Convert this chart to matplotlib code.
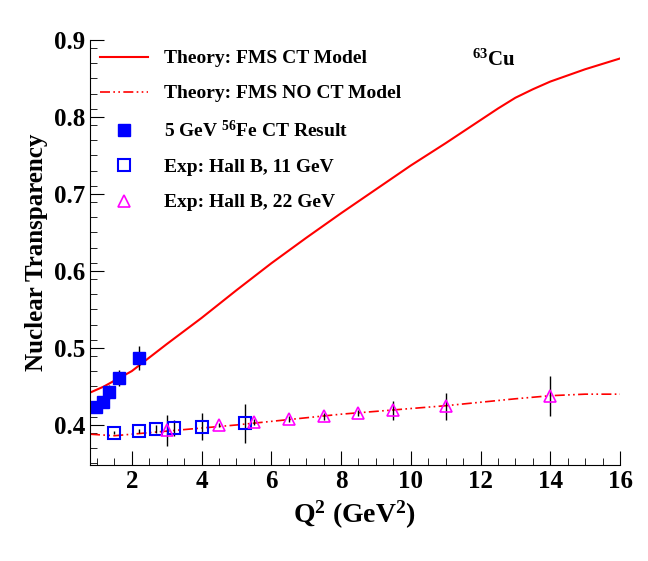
import numpy as np
import matplotlib
matplotlib.use("Agg")
import matplotlib.pyplot as plt

plt.rcParams["font.family"] = "Liberation Serif"
plt.rcParams["font.weight"] = "bold"
plt.rcParams["mathtext.fontset"] = "custom"
plt.rcParams["mathtext.rm"] = "Liberation Serif:bold"
plt.rcParams["mathtext.it"] = "Liberation Serif:bold"
plt.rcParams["mathtext.bf"] = "Liberation Serif:bold"

# theory curves
ct_q2 = [0.8, 1.2, 1.6, 2, 3, 4, 5, 6, 7, 8, 9, 10, 11, 12, 12.5, 13, 13.5, 14, 14.5, 15, 15.5, 16]
ct_t = [0.442, 0.450, 0.460, 0.470, 0.505, 0.539, 0.575, 0.610, 0.643, 0.675, 0.706,
        0.737, 0.766, 0.796, 0.811, 0.825, 0.836, 0.846, 0.854, 0.862, 0.869, 0.876]
noct_q2 = [0.8, 1.5, 3, 5, 8, 11, 13, 14, 15, 16]
noct_t = [0.388, 0.386, 0.392, 0.400, 0.414, 0.425, 0.434, 0.438, 0.440, 0.440]

# 5 GeV Fe
fe_q2 = [0.96, 1.16, 1.35, 1.63, 2.2]
fe_t = [0.423, 0.430, 0.443, 0.461, 0.487]
fe_err = [0.008, 0.008, 0.009, 0.010, 0.016]

# Hall B 11 GeV
hb11_q2 = [1.5, 2.2, 2.7, 3.2, 4.0, 5.25]
hb11_t = [0.390, 0.392, 0.395, 0.396, 0.398, 0.402]
hb11_err = [0.002, 0.003, 0.005, 0.010, 0.018, 0.025]

# Hall B 22 GeV
hb22_q2 = [3.0, 4.5, 5.5, 6.5, 7.5, 8.5, 9.5, 11, 14]
hb22_t = [0.393, 0.400, 0.404, 0.408, 0.411, 0.416, 0.419, 0.424, 0.437]
hb22_err = [0.020, 0.003, 0.004, 0.004, 0.004, 0.004, 0.012, 0.018, 0.026]

fig = plt.figure(figsize=(6.48, 5.61), dpi=100)
ax = fig.add_axes([90 / 648, 96 / 561, 530 / 648, 425 / 561])

ax.plot(ct_q2, ct_t, color="red", lw=1.5, label="Theory: FMS CT Model")
ax.plot(noct_q2, noct_t, color="red", lw=1.2, ls=(0, (6, 2, 1, 2, 1, 2)),
        label="Theory: FMS NO CT Model")
ax.errorbar(fe_q2, fe_t, yerr=fe_err, fmt="none", ecolor="black", elinewidth=1)
ax.errorbar(hb11_q2, hb11_t, yerr=hb11_err, fmt="none", ecolor="black", elinewidth=1)
ax.errorbar(hb22_q2, hb22_t, yerr=hb22_err, fmt="none", ecolor="black", elinewidth=1)
ax.plot(fe_q2, fe_t, "s", color="blue", ms=8, label=r"5 GeV $^{56}$Fe CT Result")
ax.plot(hb11_q2, hb11_t, "s", mfc="none", mec="blue", mew=1.5, ms=8,
        label="Exp: Hall B, 11 GeV")
ax.plot(hb22_q2, hb22_t, "^", mfc="none", mec="magenta", mew=1.2, ms=9,
        label="Exp: Hall B, 22 GeV")

ax.set_xlim(0.8, 16)
ax.set_ylim(0.348, 0.9)
ax.set_xticks(range(2, 17, 2))
ax.set_xticks(np.arange(1, 16.1, 0.5), minor=True)
ax.set_yticks([0.4, 0.5, 0.6, 0.7, 0.8, 0.9])
ax.set_yticks(np.arange(0.35, 0.9, 0.02), minor=True)
ax.tick_params(labelsize=18, direction="in", length=10, top=False, right=False)
ax.tick_params(which="minor", direction="in", length=5)
for s in ["top", "right"]:
    ax.spines[s].set_visible(False)
ax.set_xlabel(r"Q$^2$ (GeV$^2$)", fontsize=20, fontweight="bold")
ax.set_ylabel("Nuclear Transparency", fontsize=18, fontweight="bold")
ax.text(0.72, 0.94, r"$^{63}$Cu", transform=ax.transAxes, fontsize=15, fontweight="bold")
ax.legend(loc="upper left", frameon=False, fontsize=14, handlelength=2.5,
          labelspacing=0.9, borderaxespad=0.1)

fig.savefig("out.png")
